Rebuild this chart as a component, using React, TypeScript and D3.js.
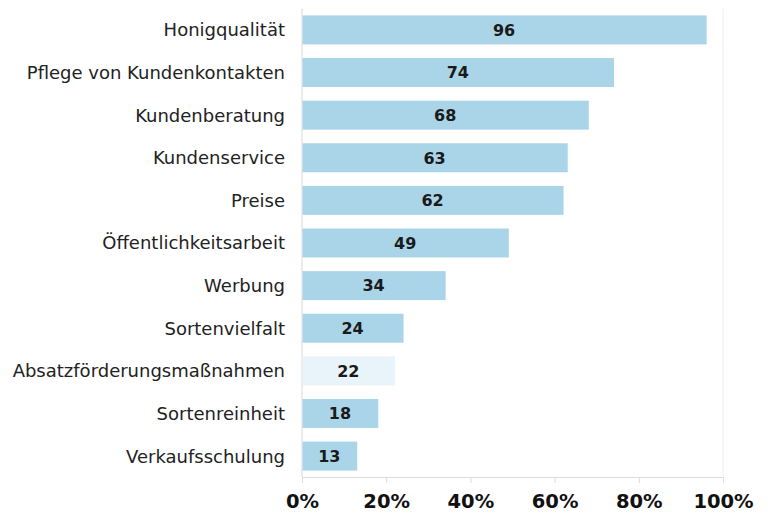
import React, { useEffect, useRef } from 'react';
import * as d3 from 'd3';

const categories = [
  'Honigqualität',
  'Pflege von Kundenkontakten',
  'Kundenberatung',
  'Kundenservice',
  'Preise',
  'Öffentlichkeitsarbeit',
  'Werbung',
  'Sortenvielfalt',
  'Absatzförderungsmaßnahmen',
  'Sortenreinheit',
  'Verkaufsschulung',
];
const values = [96, 74, 68, 63, 62, 49, 34, 24, 22, 18, 13];
const paleCategories = ['Absatzförderungsmaßnahmen'];
const xTicks = [0, 20, 40, 60, 80, 100];

const width = 770;
const height = 516;
const margin = { left: 302, right: 47, top: 8.6, bottom: 38.6 };

export default function App() {
  const svgRef = useRef<SVGSVGElement>(null);

  useEffect(() => {
    const svg = d3.select(svgRef.current);
    svg.selectAll('*').remove();

    const xScale = d3.scaleLinear().domain([0, 100]).range([margin.left, width - margin.right]);
    const yScale = d3
      .scaleBand()
      .domain(categories)
      .range([margin.top, height - margin.bottom])
      .paddingInner(0.32)
      .paddingOuter(0.16);

    const data = categories.map((c, i) => ({ label: c, value: values[i] }));
    const axisY = 477;

    // frame lines
    svg.append('line')
      .attr('x1', xScale(0)).attr('x2', xScale(0))
      .attr('y1', margin.top).attr('y2', axisY)
      .attr('stroke', '#d8d8d8').attr('stroke-width', 1);
    svg.append('line')
      .attr('x1', xScale(100)).attr('x2', xScale(100))
      .attr('y1', margin.top).attr('y2', axisY)
      .attr('stroke', '#eeeeee').attr('stroke-width', 1);

    // bars
    svg.append('g')
      .selectAll('rect')
      .data(data)
      .enter().append('rect')
      .attr('x', xScale(0) + 0.5)
      .attr('y', (d) => yScale(d.label)!)
      .attr('width', (d) => xScale(d.value) - xScale(0))
      .attr('height', yScale.bandwidth())
      .attr('fill', (d) => (paleCategories.includes(d.label) ? '#e8f4f9' : '#aad5e8'));

    // value labels
    svg.append('g')
      .selectAll('text')
      .data(data)
      .enter().append('text')
      .attr('x', (d) => (xScale(0) + xScale(d.value)) / 2)
      .attr('y', (d) => yScale(d.label)! + yScale.bandwidth() / 2)
      .attr('dy', '0.36em')
      .attr('text-anchor', 'middle')
      .attr('font-family', 'DejaVu Sans, Verdana, sans-serif')
      .attr('font-weight', 'bold')
      .attr('font-size', 16)
      .attr('fill', '#1a1a1a')
      .text((d) => d.value);

    // category labels
    svg.append('g')
      .selectAll('text')
      .data(data)
      .enter().append('text')
      .attr('x', 285)
      .attr('y', (d) => yScale(d.label)! + yScale.bandwidth() / 2)
      .attr('dy', '0.36em')
      .attr('text-anchor', 'end')
      .attr('font-family', 'DejaVu Sans, Verdana, sans-serif')
      .attr('font-size', 18)
      .attr('fill', '#222')
      .text((d) => d.label);

    // x axis
    const xAxis = d3.axisBottom(xScale)
      .tickValues(xTicks)
      .tickSize(6)
      .tickFormat((d) => `${d}%`);
    const gx = svg.append('g')
      .attr('transform', `translate(0, ${axisY})`)
      .call(xAxis);
    gx.select('.domain').attr('stroke', '#dcdcdc');
    gx.selectAll('.tick line').attr('stroke', '#dcdcdc');
    gx.selectAll('.tick text')
      .attr('y', 17)
      .attr('font-family', 'DejaVu Sans, Verdana, sans-serif')
      .attr('font-weight', 'bold')
      .attr('font-size', 19.5)
      .attr('fill', '#111');
  }, []);

  return (
    <svg ref={svgRef} width={width} height={height} style={{ display: 'block', margin: '-8px' }} />
  );
}
